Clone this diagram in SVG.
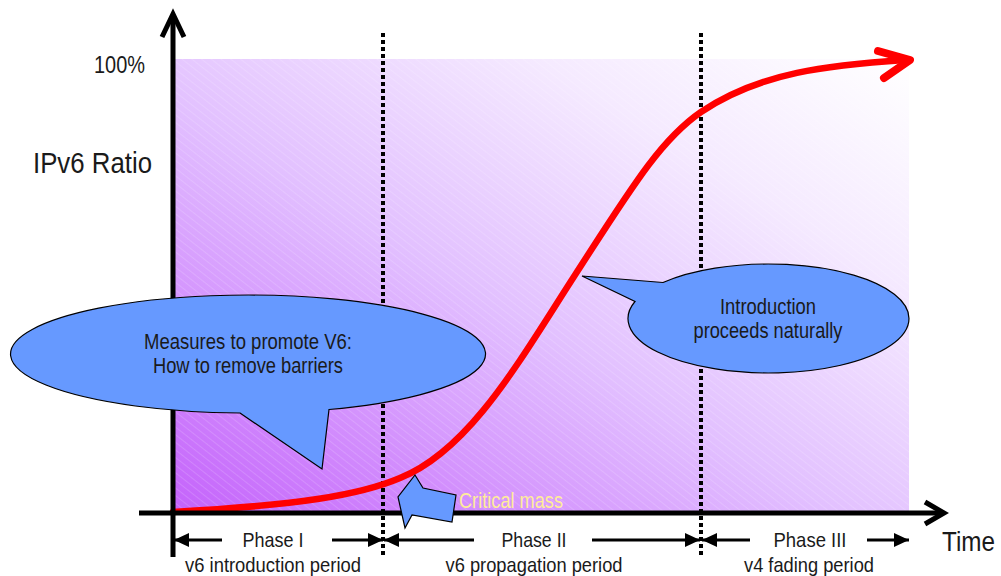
<svg xmlns="http://www.w3.org/2000/svg" width="1001" height="576" viewBox="0 0 1001 576">
  <defs>
    <linearGradient id="bgGrad" x1="0" y1="1" x2="1" y2="0">
      <stop offset="0" stop-color="#c462fb"/>
      <stop offset="0.45" stop-color="#e2c0ff"/>
      <stop offset="0.75" stop-color="#f5eaff"/>
      <stop offset="1" stop-color="#ffffff"/>
    </linearGradient>
    <pattern id="hatch" width="6" height="6" patternUnits="userSpaceOnUse" patternTransform="rotate(38)">
      <line x1="0" y1="0" x2="6" y2="0" stroke="#ffffff" stroke-opacity="0.3" stroke-width="1"/>
    </pattern>
    <marker id="tri" viewBox="0 0 15 14" refX="15" refY="7" markerWidth="15" markerHeight="14" markerUnits="userSpaceOnUse" orient="auto">
      <path d="M0,0 L15,7 L0,14 Z" fill="#000"/>
    </marker>
  </defs>
  <style>
    .txt { font-family: "Liberation Sans Narrow", "Liberation Sans", Arial, sans-serif; fill: #1a1a1a; }
    .axis { stroke: #000; stroke-width: 5; fill: none; }
    .chev { stroke: #000; stroke-width: 5; fill: none; stroke-linejoin: miter; }
    .divider { stroke: #000; stroke-width: 4; stroke-dasharray: 4 3; }
    .span { stroke: #000; stroke-width: 3; fill: none; marker-end: url(#tri); }
    .callout { fill: #6699ff; stroke: #000; stroke-width: 1.2; }
  </style>

  <!-- plot area background -->
  <rect x="173" y="59" width="736" height="454" fill="url(#bgGrad)"/>
  <rect x="173" y="59" width="736" height="454" fill="url(#hatch)"/>

  <!-- phase dividers -->
  <line class="divider" x1="383" y1="33" x2="383" y2="557"/>
  <line class="divider" x1="701" y1="33" x2="701" y2="557"/>

  <!-- adoption curve -->
  <g id="curve">
    <path d="M173,512 C300,505 360,495 400,478 C470,450 520,360 575,275 C630,190 660,140 701,112 C760,72 830,65 905,60" fill="none" stroke="#ff0000" stroke-width="6.5" stroke-linecap="round"/>
    <path d="M878,51 L910,60 L884,78" fill="none" stroke="#ff0000" stroke-width="8" stroke-linecap="round" stroke-linejoin="round"/>
  </g>

  <!-- axes -->
  <g id="axes">
    <line class="axis" x1="173" y1="15" x2="173" y2="557"/>
    <path class="chev" d="M162,37 L173,14 L184,37"/>
    <line class="axis" x1="139" y1="513" x2="943" y2="513"/>
    <path class="chev" d="M925,502 L944,513 L925,524"/>
  </g>

  <!-- axis labels -->
  <text class="txt" x="145" y="73" font-size="24" text-anchor="end" textLength="51" lengthAdjust="spacingAndGlyphs">100%</text>
  <text class="txt" x="33" y="173" font-size="29" textLength="119" lengthAdjust="spacingAndGlyphs">IPv6 Ratio</text>
  <text class="txt" x="942" y="551" font-size="27" textLength="53" lengthAdjust="spacingAndGlyphs">Time</text>

  <!-- phase spans -->
  <g id="connectors">
    <line class="span" x1="222" y1="540" x2="174" y2="540"/>
    <line class="span" x1="332" y1="540" x2="383" y2="540"/>
    <line class="span" x1="474" y1="540" x2="384" y2="540"/>
    <line class="span" x1="592" y1="540" x2="700" y2="540"/>
    <line class="span" x1="750" y1="540" x2="702" y2="540"/>
    <line class="span" x1="867" y1="540" x2="909" y2="540"/>
  </g>

  <g id="phase1">
    <text class="txt" x="273" y="547" font-size="21" text-anchor="middle" textLength="61" lengthAdjust="spacingAndGlyphs">Phase I</text>
    <text class="txt" x="273" y="572" font-size="21" text-anchor="middle" textLength="176" lengthAdjust="spacingAndGlyphs">v6 introduction period</text>
  </g>
  <g id="phase2">
    <text class="txt" x="534" y="547" font-size="21" text-anchor="middle" textLength="65" lengthAdjust="spacingAndGlyphs">Phase II</text>
    <text class="txt" x="534" y="572" font-size="21" text-anchor="middle" textLength="177" lengthAdjust="spacingAndGlyphs">v6 propagation period</text>
  </g>
  <g id="phase3">
    <text class="txt" x="810" y="547" font-size="21" text-anchor="middle" textLength="73" lengthAdjust="spacingAndGlyphs">Phase III</text>
    <text class="txt" x="809" y="572" font-size="21" text-anchor="middle" textLength="130" lengthAdjust="spacingAndGlyphs">v4 fading period</text>
  </g>

  <!-- callout: promotion measures -->
  <g id="callout-measures">
    <path class="callout" d="M240,413 L322,469 L329,409.5 A237.5,59 0 1 0 240,413 Z"/>
    <text class="txt" x="248" y="349" font-size="22" text-anchor="middle" textLength="208" lengthAdjust="spacingAndGlyphs">Measures to promote V6:</text>
    <text class="txt" x="248" y="373" font-size="22" text-anchor="middle" textLength="190" lengthAdjust="spacingAndGlyphs">How to remove barriers</text>
  </g>

  <!-- callout: natural introduction -->
  <g id="callout-natural">
    <path class="callout" d="M663,282.5 L582,276 L635,301.5 A140.5,54.5 0 1 0 663,282.5 Z"/>
    <text class="txt" x="768" y="314" font-size="22" text-anchor="middle" textLength="96" lengthAdjust="spacingAndGlyphs">Introduction</text>
    <text class="txt" x="768" y="338" font-size="22" text-anchor="middle" textLength="149" lengthAdjust="spacingAndGlyphs">proceeds naturally</text>
  </g>

  <!-- critical mass marker -->
  <g id="critical-mass">
    <polygon class="callout" points="415,475 423,488 456,495 452,522 412,515 405,528 398,497"/>
    <text x="459" y="508" font-size="22" font-family="Liberation Sans Narrow, Liberation Sans, Arial, sans-serif" fill="#ffec99" textLength="104" lengthAdjust="spacingAndGlyphs">Critical mass</text>
  </g>
</svg>
